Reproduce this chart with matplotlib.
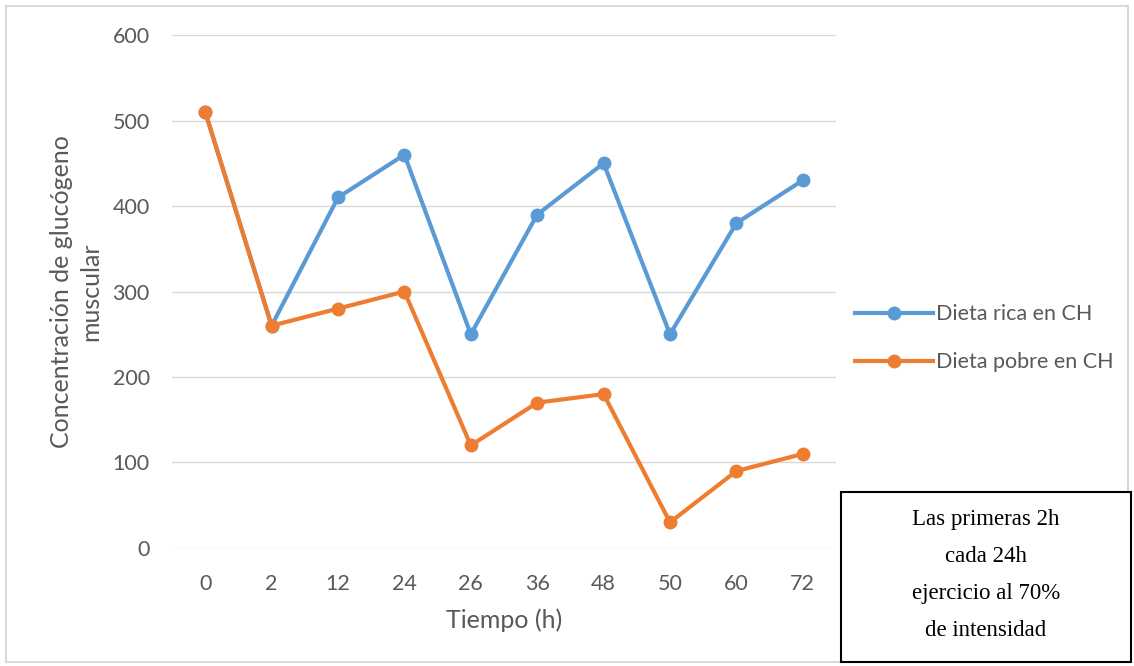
import matplotlib
matplotlib.use("Agg")
from matplotlib import pyplot as plt
from matplotlib.patches import Rectangle

# data
tiempos = ['0', '2', '12', '24', '26', '36', '48', '50', '60', '72']
dieta_rica = [510, 260, 410, 460, 250, 390, 450, 250, 380, 430]
dieta_pobre = [510, 260, 280, 300, 120, 170, 180, 30, 90, 110]

azul = '#5B9BD5'
naranja = '#ED7D31'
gris = '#595959'

plt.rcParams['font.family'] = ['Lato', 'DejaVu Sans']

fig = plt.figure(figsize=(11.34, 6.66), dpi=100)
ax = fig.add_axes([0.1517, 0.1772, 0.5855, 0.7702])

x = range(len(tiempos))
ax.plot(x, dieta_rica, color=azul, lw=3, marker='o', ms=9, label='Dieta rica en CH', zorder=3)
ax.plot(x, dieta_pobre, color=naranja, lw=3, marker='o', ms=9, label='Dieta pobre en CH', zorder=4)

ax.set_xlim(-0.5, len(tiempos) - 0.5)
ax.set_ylim(0, 600)
ax.set_yticks(range(0, 601, 100))
ax.set_xticks(list(x))
ax.set_xticklabels(tiempos)
ax.grid(axis='y', color='#D9D9D9', lw=1)
ax.set_axisbelow(True)
for s in ax.spines.values():
    s.set_visible(False)
ax.tick_params(length=0, labelsize=15.5, labelcolor=gris)
ax.tick_params(axis='x', pad=19)
ax.tick_params(axis='y', pad=16)

ax.set_xlabel('Tiempo (h)', fontsize=18, color=gris, labelpad=10)
ax.set_ylabel('Concentración de glucógeno\nmuscular', fontsize=18, color=gris,
              linespacing=1.35)
ax.yaxis.set_label_coords(-0.105, 0.5)

fig.legend(loc='center left', bbox_to_anchor=(0.737, 0.492), frameon=False,
           fontsize=15.5, labelcolor=gris, handlelength=3.6, handletextpad=0.15,
           labelspacing=1.3)

# borde del gráfico
fig.patches.append(Rectangle((6 / 1134, 4 / 666), 1122 / 1134, 656 / 666,
                             transform=fig.transFigure, fill=False,
                             edgecolor='#D9D9D9', lw=1.5))

# cuadro de texto
fig.patches.append(Rectangle((841 / 1134, 4 / 666), 290 / 1134, 170 / 666,
                             transform=fig.transFigure, facecolor='white',
                             edgecolor='black', lw=1.5, zorder=5))
lineas = ['Las primeras 2h', 'cada 24h', 'ejercicio al 70%', 'de intensidad']
for i, t in enumerate(lineas):
    fig.text(986 / 1134, 1 - (520 + 37 * i) / 666, t, ha='center', va='center',
             fontsize=16.5, family='Liberation Serif', color='black', zorder=6)

fig.savefig('out.png', dpi=100)
